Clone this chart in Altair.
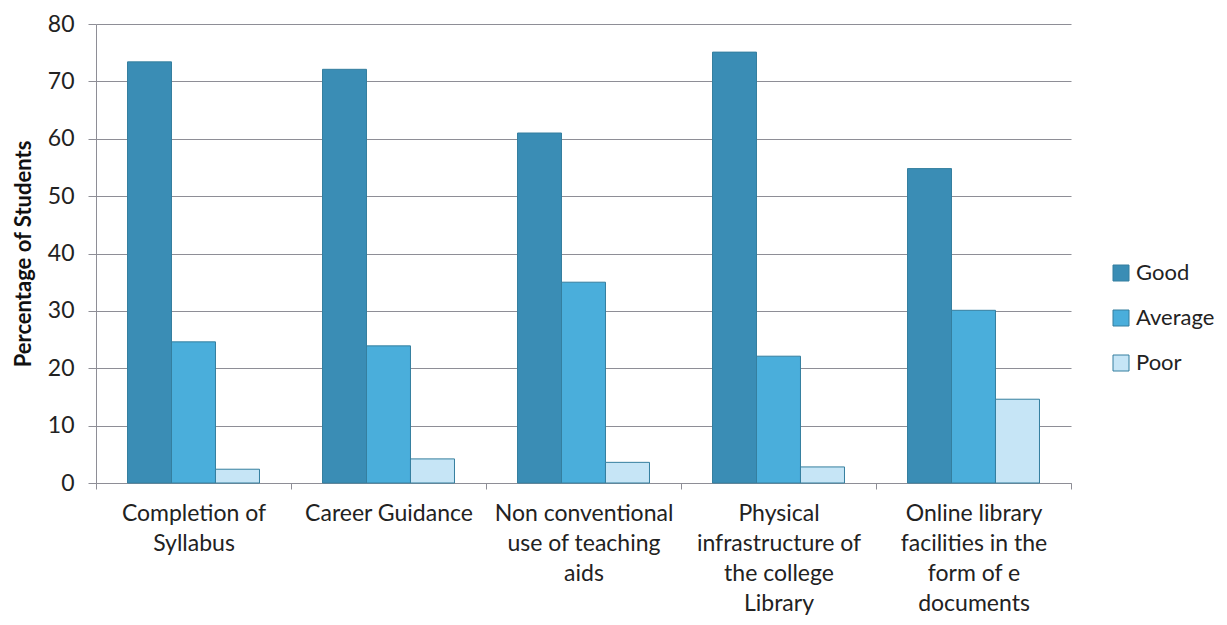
import altair as alt
import pandas as pd

categories = [
    "Completion of|Syllabus",
    "Career Guidance",
    "Non conventional|use of teaching|aids",
    "Physical|infrastructure of|the college|Library",
    "Online library|facilities in the|form of e|documents",
]
series = ["Good", "Average", "Poor"]
good = [73.4, 72.1, 61.0, 75.1, 54.8]
average = [24.6, 23.9, 35.0, 22.1, 30.1]
poor = [2.4, 4.2, 3.6, 2.8, 14.6]
colors = ["#3a8db5", "#4aaedb", "#c6e5f6"]

rows = []
for i, c in enumerate(categories):
    for s, vals in zip(series, [good, average, poor]):
        rows.append({"category": c, "series": s, "value": vals[i]})
df = pd.DataFrame(rows)

FONT = "Lato"
AXIS_GRAY = "#8e8e96"

chart = alt.Chart(df).mark_bar(stroke="#357f9f", strokeWidth=1).encode(
    x=alt.X(
        "category:N",
        sort=categories,
        title=None,
        scale=alt.Scale(paddingInner=0, paddingOuter=0),
        axis=alt.Axis(
            labelAngle=0,
            labelExpr="split(datum.label, '|')",
            labelFontSize=23,
            labelFont=FONT,
            labelColor="#222222",
            labelLineHeight=30,
            labelPadding=13,
            labelBaseline="top",
            tickBand="extent",
            tickSize=6,
            tickColor=AXIS_GRAY,
            domainColor=AXIS_GRAY,
            grid=False,
            labelLimit=300,
        ),
    ),
    xOffset=alt.XOffset(
        "series:N",
        sort=series,
        scale=alt.Scale(paddingInner=0, paddingOuter=0.716),
    ),
    y=alt.Y(
        "value:Q",
        title="Percentage of Students",
        scale=alt.Scale(domain=[0, 80], nice=False),
        axis=alt.Axis(
            values=[0, 10, 20, 30, 40, 50, 60, 70, 80],
            labelFontSize=23,
            labelFont=FONT,
            labelColor="#222222",
            labelPadding=14,
            tickSize=8,
            tickColor=AXIS_GRAY,
            domainColor=AXIS_GRAY,
            gridColor=AXIS_GRAY,
            gridWidth=1.2,
            titleFont=FONT,
            titleFontSize=22,
            titleFontWeight="bold",
            titleColor="#111111",
            titlePadding=12,
        ),
    ),
    color=alt.Color(
        "series:N",
        sort=series,
        scale=alt.Scale(domain=series, range=colors),
        legend=alt.Legend(
            title=None,
            orient="none",
            legendX=1014,
            legendY=238,
            symbolType="square",
            symbolSize=256,
            symbolStrokeColor="#357f9f",
            symbolStrokeWidth=1,
            labelFont=FONT,
            labelFontSize=22,
            labelColor="#222222",
            rowPadding=23,
            labelOffset=4,
        ),
    ),
).properties(
    width=975,
    height=459,
    background="white",
    autosize=alt.AutoSizeParams(type="none"),
    padding={"left": 88, "top": 16, "right": 148, "bottom": 134},
).configure_view(stroke=None)

chart.save("out.html", embed_options={"renderer": "svg", "actions": False})
